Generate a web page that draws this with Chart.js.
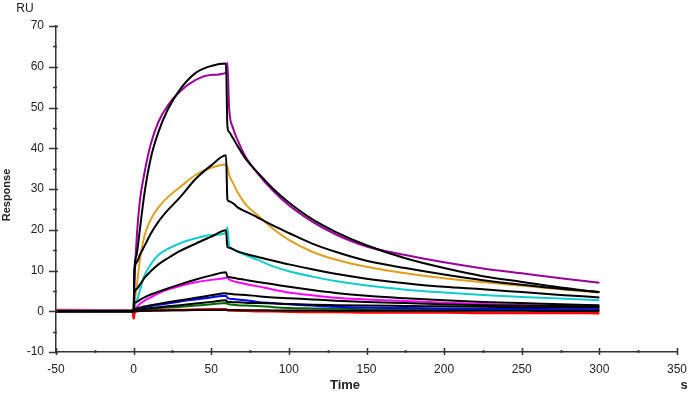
<!DOCTYPE html>
<html>
<head>
<meta charset="utf-8">
<script src="https://cdn.jsdelivr.net/npm/chart.js@4/dist/chart.umd.min.js"></script>
<style>
  html, body { margin: 0; padding: 0; background: #fff; }
  #wrap { width: 689px; height: 393px; position: relative; }
</style>
</head>
<body>
<div id="wrap"><canvas id="sprChart"></canvas></div>
<script>
// Sample times (s), shared by every trace
const times = [-50, -0.5, 0, 0.5, 2, 4, 7, 11, 16, 22, 30, 40, 50, 59.5, 60.4, 61.5, 64, 67, 72, 80, 90, 100, 115, 130, 150, 175, 200, 225, 250, 275, 300];

// Measured responses (RU)
const purple  = [0.2, 0.2, 0, 7, 18, 27, 34, 41, 46.5, 50.5, 54, 56.8, 58, 58.5, 61, 50, 45, 42, 38, 33.8, 29.5, 26, 22, 18.9, 15.9, 13.8, 12.0, 10.5, 9.3, 8.1, 7.0];
const orange  = [0.2, 0.2, 0, 2, 6, 12.5, 18.5, 22.5, 25.5, 28, 30.5, 33.5, 35.2, 36, 35.5, 33.5, 31.5, 29.2, 26.3, 23.5, 20.2, 17.5, 14.6, 12.7, 10.9, 9.3, 8.1, 7.1, 6.3, 5.4, 4.6];
const cyan    = [0.2, 0.2, 0, 1, 2.5, 5, 8.8, 11.5, 13.8, 15.3, 16.7, 17.9, 18.7, 19.2, 20.6, 16.2, 15.3, 14.6, 13.8, 12.6, 11, 9.8, 8.5, 7.4, 6.3, 5.3, 4.6, 4.0, 3.5, 3.1, 2.7];
const magenta = [0.2, 0.2, 0, 0.5, 1, 1.8, 2.6, 3.4, 4.4, 5.3, 6.2, 7.1, 7.7, 8.2, 8.3, 7.8, 7.4, 7.1, 6.7, 6.1, 5.3, 4.6, 3.9, 3.3, 2.9, 2.5, 2.1, 1.8, 1.5, 1.2, 1.0];
const blue    = [0.2, 0.2, 0, 0.3, 0.5, 0.7, 1.0, 1.3, 1.6, 1.9, 2.4, 2.9, 3.4, 3.8, 3.3, 3.1, 3.0, 2.9, 2.7, 2.3, 2.0, 1.7, 1.4, 1.1, 0.9, 0.8, 0.7, 0.6, 0.6, 0.5, 0.5];
const green   = [0.1, 0.1, 0, 0, 0.1, 0.2, 0.3, 0.5, 0.7, 0.9, 1.1, 1.4, 1.7, 2.0, 1.8, 1.7, 1.6, 1.5, 1.4, 1.3, 1.0, 0.8, 0.7, 0.6, 0.5, 0.4, 0.4, 0.3, 0.3, 0.3, 0.3];
const red     = [0.3, 0.1, -1.8, -0.5, 0, 0.1, 0.1, 0.2, 0.2, 0.3, 0.3, 0.4, 0.5, 0.5, 0.3, 0.2, 0.2, 0.1, 0.1, 0, 0, -0.1, -0.2, -0.2, -0.3, -0.3, -0.3, -0.4, -0.4, -0.4, -0.5];

// Fitted curves (black)
const fitPurple  = [0, 0, 0, 10, 14, 20, 29, 37.5, 44, 49.5, 54.5, 58.5, 60.2, 60.8, 45.5, 44, 42.5, 40.5, 37.5, 34, 30, 26.7, 22.6, 19.5, 16.2, 13, 10.6, 8.6, 7.2, 5.8, 4.7];
const fitOrange  = [0, 0, 0, 10, 12, 13.8, 16, 19, 22, 24.8, 28, 32.5, 35.8, 38.3, 27.5, 27, 26.5, 25.5, 24.5, 23, 21, 19.2, 16.6, 14.6, 12.4, 10.6, 9, 7.6, 6.5, 5.5, 4.7];
const fitCyan    = [0, 0, 0, 4.5, 5.5, 6.5, 8.2, 9.8, 11.5, 13, 14.8, 16.6, 18.3, 19.9, 15.8, 15.6, 15.2, 14.7, 14.1, 13.3, 12.4, 11.5, 10.3, 9.2, 8, 6.9, 6.0, 5.4, 4.7, 4.0, 3.4];
const fitMagenta = [0, 0, 0, 2, 2.3, 2.8, 3.4, 4.1, 4.8, 5.6, 6.6, 7.8, 8.8, 9.6, 8.5, 8.4, 8.2, 8, 7.7, 7.2, 6.6, 6, 5.2, 4.5, 3.8, 3.2, 2.7, 2.3, 2, 1.7, 1.5];
const fitBlue    = [0, 0, 0, 0.5, 0.7, 0.9, 1.2, 1.5, 1.8, 2.2, 2.7, 3.3, 3.9, 4.4, 4.3, 4.3, 4.2, 4.1, 4.0, 3.7, 3.4, 3.2, 2.9, 2.6, 2.3, 2.0, 1.7, 1.5, 1.4, 1.3, 1.2];
const fitGreen   = [0, 0, 0, 0.2, 0.3, 0.4, 0.6, 0.8, 1.0, 1.2, 1.5, 1.9, 2.3, 2.7, 2.3, 2.3, 2.2, 2.2, 2.1, 2.0, 1.9, 1.8, 1.6, 1.5, 1.4, 1.3, 1.2, 1.1, 1.0, 0.9, 0.9];
const fitRed     = [0, 0, 0, 0.05, 0.05, 0.1, 0.1, 0.15, 0.2, 0.2, 0.25, 0.3, 0.3, 0.35, 0.3, 0.3, 0.3, 0.3, 0.25, 0.25, 0.2, 0.2, 0.2, 0.15, 0.15, 0.1, 0.1, 0.1, 0.1, 0.05, 0.05];

// Axis ticks
const xMin = -50, xMax = 350, xStep = 50;
const yMin = -10, yMax = 70, yStep = 10;

function pts(values) {
    return times.map((t, i) => ({ x: t, y: values[i] }));
}

function trace(values, color, width) {
    return {
        data: pts(values),
        borderColor: color,
        borderWidth: width,
        pointRadius: 0,
        fill: false,
        cubicInterpolationMode: 'monotone'
    };
}

// Black fits first so they are painted on top
const datasets = [
    trace(fitPurple, '#000', 2),
    trace(fitOrange, '#000', 2),
    trace(fitCyan, '#000', 2),
    trace(fitMagenta, '#000', 2),
    trace(fitBlue, '#000', 2),
    trace(fitGreen, '#000', 2),
    trace(fitRed, '#000', 2),
    trace(purple, '#990099', 2),
    trace(orange, '#dda020', 2),
    trace(cyan, '#11cccc', 2),
    trace(magenta, '#ff00ff', 2),
    trace(blue, '#0000ff', 2),
    trace(green, '#006600', 2),
    trace(red, '#ff0000', 2.5)
];

// Minor/major tick marks plus the axis captions
const axisDecor = {
    id: 'axisDecor',
    afterDraw(chart) {
        const ctx = chart.ctx;
        const xs = chart.scales.x, ys = chart.scales.y;
        const left = chart.chartArea.left, bottom = chart.chartArea.bottom;
        ctx.save();
        ctx.strokeStyle = '#333';
        ctx.lineWidth = 1.5;
        ctx.beginPath();
        for (let v = yMin; v <= yMax; v += yStep / 2) {
            const py = Math.round(ys.getPixelForValue(v)) + 0.5;
            const major = v % yStep === 0;
            ctx.moveTo(left - (major ? 7 : 3), py);
            ctx.lineTo(left + (major ? 2 : 1), py);
        }
        for (let v = xMin; v <= xMax; v += xStep / 2) {
            const px = Math.round(xs.getPixelForValue(v)) + 0.5;
            const major = v % xStep === 0;
            ctx.moveTo(px, bottom - (major ? 4 : 2));
            ctx.lineTo(px, bottom + (major ? 3 : 1));
        }
        ctx.stroke();

        ctx.fillStyle = '#222';
        ctx.textAlign = 'center';
        ctx.textBaseline = 'middle';
        ctx.font = '12px "Liberation Sans", Arial, sans-serif';
        ctx.fillText('RU', 25, 9);
        ctx.font = 'bold 13px "Liberation Sans", Arial, sans-serif';
        ctx.fillText('Time', 345, 385);
        ctx.fillText('s', 684, 385);
        ctx.translate(7, 195);
        ctx.rotate(-Math.PI / 2);
        ctx.font = 'bold 11px "Liberation Sans", Arial, sans-serif';
        ctx.fillText('Response', 0, 0);
        ctx.restore();
    }
};

const tickFont = { family: '"Liberation Sans", Arial, sans-serif', size: 12 };

new Chart(document.getElementById('sprChart'), {
    type: 'line',
    data: { datasets: datasets },
    options: {
        responsive: true,
        maintainAspectRatio: false,
        animation: false,
        layout: { padding: { top: 26, right: 12, left: 0, bottom: 0 } },
        plugins: { legend: { display: false }, tooltip: { enabled: false } },
        scales: {
            x: {
                type: 'linear',
                min: xMin, max: xMax,
                afterFit: s => { s.height = 41; s.paddingLeft = 0; s.paddingRight = 0; },
                grid: { drawOnChartArea: false, drawTicks: false },
                border: { color: '#333', width: 1.5 },
                ticks: { stepSize: xStep, padding: 10, color: '#222', font: tickFont, maxRotation: 0 }
            },
            y: {
                min: yMin, max: yMax,
                afterFit: s => { s.width = 56; s.paddingTop = 0; s.paddingBottom = 0; },
                grid: { drawOnChartArea: false, drawTicks: false },
                border: { color: '#333', width: 1.5 },
                ticks: { stepSize: yStep, padding: 12, color: '#222', font: tickFont }
            }
        }
    },
    plugins: [axisDecor]
});
</script>
</body>
</html>
